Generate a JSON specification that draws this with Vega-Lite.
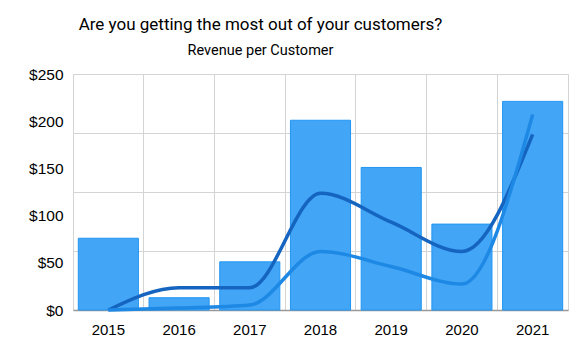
{
  "$schema": "https://vega.github.io/schema/vega-lite/v6.json",
  "autosize": "none",
  "width": 495,
  "height": 236,
  "padding": {"left": 73, "top": 74, "right": 16, "bottom": 53},
  "background": "white",
  "config": {
    "font": "Liberation Sans",
    "view": {"stroke": "#d4d4d4", "strokeWidth": 1}
  },
  "title": {
    "text": "Are you getting the most out of your customers?",
    "subtitle": "Revenue per Customer",
    "anchor": "middle",
    "dx": -60,
    "font": "Roboto",
    "subtitleFont": "Roboto",
    "fontSize": 17,
    "fontWeight": "normal",
    "color": "#000000",
    "subtitleFontSize": 14.5,
    "subtitleColor": "#000000",
    "subtitlePadding": 10,
    "offset": 9
  },
  "datasets": {
    "bars": [
      {"year": "2015", "revenue": 76},
      {"year": "2016", "revenue": 13},
      {"year": "2017", "revenue": 51},
      {"year": "2018", "revenue": 201},
      {"year": "2019", "revenue": 151},
      {"year": "2020", "revenue": 91},
      {"year": "2021", "revenue": 221}
    ],
    "lines": [
      {"year": "2015", "series": "A", "value": 0},
      {"year": "2016", "series": "A", "value": 23.6},
      {"year": "2017", "series": "A", "value": 23.6},
      {"year": "2018", "series": "A", "value": 123.6},
      {"year": "2019", "series": "A", "value": 93},
      {"year": "2020", "series": "A", "value": 62},
      {"year": "2021", "series": "A", "value": 186},
      {"year": "2015", "series": "B", "value": 0},
      {"year": "2016", "series": "B", "value": 2},
      {"year": "2017", "series": "B", "value": 5.3},
      {"year": "2018", "series": "B", "value": 62},
      {"year": "2019", "series": "B", "value": 46},
      {"year": "2020", "series": "B", "value": 27.5},
      {"year": "2021", "series": "B", "value": 207}
    ]
  },
  "encoding": {
    "x": {
      "field": "year",
      "type": "nominal",
      "scale": {"padding": 0},
      "axis": {
        "title": null,
        "labelAngle": 0,
        "labelFontSize": 15,
        "labelColor": "#000000",
        "labelPadding": 12,
        "ticks": false,
        "domainColor": "#999999",
        "domainWidth": 1.5,
        "grid": true,
        "gridColor": "#d4d4d4",
        "bandPosition": 0
      }
    }
  },
  "layer": [
    {
      "data": {"name": "bars"},
      "mark": {"type": "bar", "width": {"band": 0.85}, "color": "#42A5F5", "stroke": "#2196F3", "strokeWidth": 1},
      "encoding": {
        "y": {
          "field": "revenue",
          "type": "quantitative",
          "scale": {"domain": [0, 250], "nice": false},
          "axis": {
            "title": null,
            "values": [0, 50, 100, 150, 200, 250],
            "format": "$,.0f",
            "labelFontSize": 15.5,
            "labelColor": "#000000",
            "labelPadding": 10,
            "ticks": false,
            "domain": false,
            "grid": false
          }
        }
      }
    },
    {
      "data": {"name": "lines"},
      "mark": {"type": "line", "interpolate": "monotone", "strokeWidth": 3.5},
      "encoding": {
        "y": {
          "field": "value",
          "type": "quantitative",
          "axis": {
            "orient": "right",
            "values": [62.5, 125, 187.5, 250],
            "labels": false,
            "ticks": false,
            "domain": false,
            "title": null,
            "grid": true,
            "gridColor": "#d4d4d4"
          }
        },
        "color": {
          "field": "series",
          "type": "nominal",
          "scale": {"domain": ["A", "B"], "range": ["#1565C0", "#1E88E5"]},
          "legend": null
        }
      }
    }
  ],
  "resolve": {"axis": {"y": "independent"}}
}
